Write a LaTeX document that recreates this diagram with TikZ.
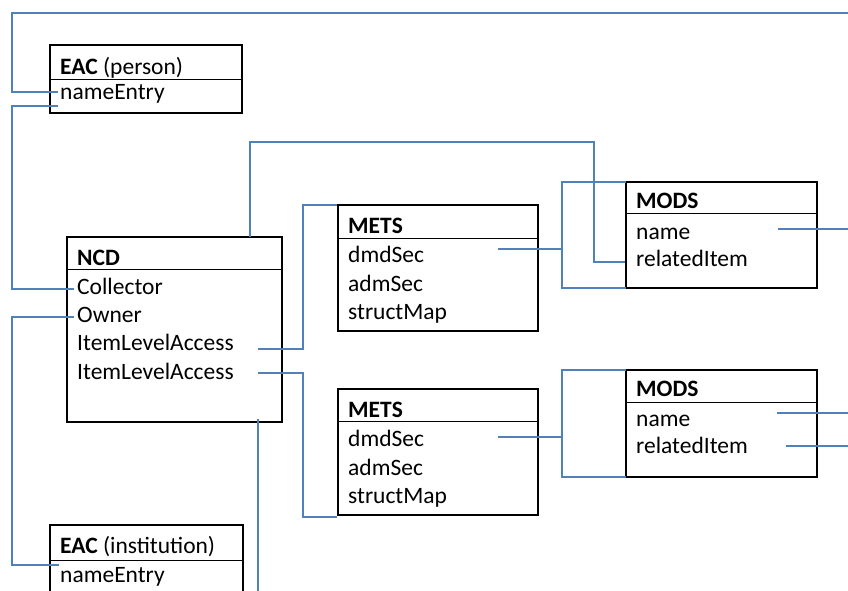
\documentclass[tikz,border=0pt]{standalone}
\usepackage{fontspec}
\setmainfont{Carlito}
\definecolor{linkblue}{RGB}{79,129,189}
\begin{document}
\begin{tikzpicture}[x=1pt, y=-1pt,
    entity/.style={draw=black, line width=2.8pt, anchor=north west, inner sep=0pt, outer sep=0pt},
    field/.style={anchor=base west, inner sep=0pt, font=\fontsize{23.5}{28}\selectfont},
    sep/.style={black, line width=0.8pt},
    link/.style={linkblue, line width=1.5pt}]
    \clip (0,0) rectangle (848,591);

    % boxes
    \node[entity, minimum width=192, minimum height=68] (eacp) at (50,45) {};
    \node[entity, minimum width=215, minimum height=185] (ncd) at (67,237) {};
    \node[entity, minimum width=200, minimum height=126] (mets1) at (338,205) {};
    \node[entity, minimum width=200, minimum height=126] (mets2) at (338,389) {};
    \node[entity, minimum width=191, minimum height=106] (mods1) at (626,182) {};
    \node[entity, minimum width=191, minimum height=107] (mods2) at (626,370) {};
    \node[entity, minimum width=193, minimum height=90] (eaci) at (50,525) {};

    \draw[sep] ([yshift=-34pt]eacp.north west) -- ([yshift=-34pt]eacp.north east);
    \draw[sep] ([yshift=-32pt]ncd.north west) -- ([yshift=-32pt]ncd.north east);
    \draw[sep] ([yshift=-33pt]mets1.north west) -- ([yshift=-33pt]mets1.north east);
    \draw[sep] ([yshift=-32pt]mets2.north west) -- ([yshift=-32pt]mets2.north east);
    \draw[sep] ([yshift=-31pt]mods1.north west) -- ([yshift=-31pt]mods1.north east);
    \draw[sep] ([yshift=-32pt]mods2.north west) -- ([yshift=-32pt]mods2.north east);
    \draw[sep] ([yshift=-35pt]eaci.north west) -- ([yshift=-35pt]eaci.north east);

    % fields
    \node[field] (eacp-t) at (60,75) {\textbf{EAC} (person)};
    \node[field] (eacp-n) at (60,100) {nameEntry};

    \node[field] (ncd-t) at (77,265) {\textbf{NCD}};
    \node[field] (ncd-coll) at (77,294) {Collector};
    \node[field] (ncd-own) at (77,322) {Owner};
    \node[field] (ncd-ila1) at (77,350) {ItemLevelAccess};
    \node[field] (ncd-ila2) at (77,379) {ItemLevelAccess};

    \node[field] (mets1-t) at (348,233) {\textbf{METS}};
    \node[field] (mets1-dmd) at (348,262) {dmdSec};
    \node[field] (mets1-adm) at (348,291) {admSec};
    \node[field] (mets1-smap) at (348,319) {structMap};

    \node[field] (mets2-t) at (348,417) {\textbf{METS}};
    \node[field] (mets2-dmd) at (348,446) {dmdSec};
    \node[field] (mets2-adm) at (348,475) {admSec};
    \node[field] (mets2-smap) at (348,503) {structMap};

    \node[field] (mods1-t) at (636,208) {\textbf{MODS}};
    \node[field] (mods1-name) at (636,239) {name};
    \node[field] (mods1-rel) at (636,266) {relatedItem};

    \node[field] (mods2-t) at (636,396) {\textbf{MODS}};
    \node[field] (mods2-name) at (636,426) {name};
    \node[field] (mods2-rel) at (636,453) {relatedItem};

    \node[field] (eaci-t) at (60,553) {\textbf{EAC} (institution)};
    \node[field] (eaci-n) at (60,582) {nameEntry};

    % connector ends
    \coordinate (top-in) at (848,13);
    \coordinate (eacp-in) at (58,92);
    \coordinate (eacp-out) at (58,106);
    \coordinate (coll-in) at (74,289);
    \coordinate (own-out) at (74,317);
    \coordinate (eaci-in) at (59,565);
    \coordinate (ncd-up) at (250,237);
    \coordinate (rel1-in) at (625,262);
    \coordinate (ila1-out) at (258,349);
    \coordinate (ila2-out) at (258,373);
    \coordinate (ncd-down) at (258,419);
    \coordinate (ncd-end) at (258,591);
    \coordinate (mets1-in) at (337,205);
    \coordinate (mets2-in) at (337,517);
    \coordinate (dmd1-out) at (498,249);
    \coordinate (dmd2-out) at (498,437);
    \coordinate (name1-out) at (778,229);
    \coordinate (name1-end) at (848,229);
    \coordinate (name2-out) at (777,413);
    \coordinate (name2-end) at (848,413);
    \coordinate (rel2-out) at (786,446);
    \coordinate (rel2-end) at (848,446);

    % connectors
    \draw[link] (top-in) -- (12,13) |- (eacp-in);
    \draw[link] (eacp-out) -- (12,106) |- (coll-in);
    \draw[link] (own-out) -- (12,317) |- (eaci-in);
    \draw[link] (ncd-up) -- (250,142) -| (594,262) -- (rel1-in);
    \draw[link] (ila1-out) -- (303,349) |- (mets1-in);
    \draw[link] (ila2-out) -- (303,373) |- (mets2-in);
    \draw[link] (ncd-down) -- (ncd-end);

    \draw[link] (dmd1-out) -- (562,249);
    \draw[link] (mods1.north west) -| (562,249) |- (mods1.south west);
    \draw[link] (dmd2-out) -- (562,437);
    \draw[link] (mods2.north west) -| (562,437) |- (mods2.south west);

    \draw[link] (name1-out) -- (name1-end);
    \draw[link] (name2-out) -- (name2-end);
    \draw[link] (rel2-out) -- (rel2-end);
\end{tikzpicture}
\end{document}
